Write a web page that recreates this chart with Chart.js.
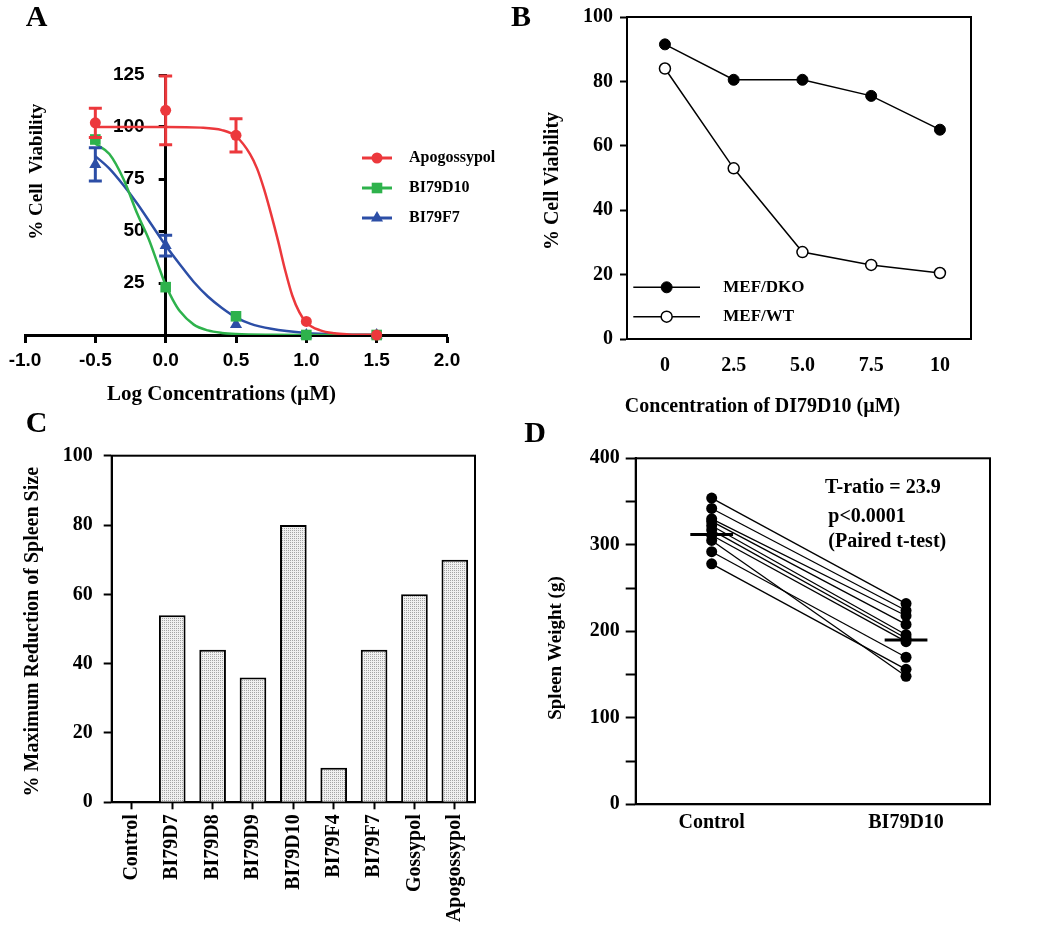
<!DOCTYPE html>
<html>
<head>
<meta charset="utf-8">
<script src="https://cdn.jsdelivr.net/npm/chart.js@4.4.0/dist/chart.umd.min.js"></script>
<style>
  body { margin: 0; background: #fff; width: 1050px; height: 949px; position: relative; overflow: hidden; }
  canvas { position: absolute; }
</style>
</head>
<body>
<canvas id="chartA" width="520" height="420" style="left:0;top:0"></canvas>
<canvas id="chartB" width="550" height="430" style="left:500px;top:0"></canvas>
<canvas id="chartC" width="520" height="549" style="left:0;top:400px"></canvas>
<canvas id="chartD" width="530" height="440" style="left:520px;top:420px"></canvas>
<script>
// ---- panel A: dose response ----
const seriesA = ['Apogossypol', 'BI79D10', 'BI79F7'];
const logConc = [-0.5, 0, 0.5, 1.0, 1.5];
const apoMean = [102, 108, 96, 6.5, 0];
const apoErr = [7, 16.5, 8, 0, 0];
const d10Mean = [94, 23, 9, 0, 0];
const d10Err = [0, 0, 0, 0, 0];
const f7Mean = [82, 43, 5, 0, 0];
const f7Err = [8, 5, 0, 0, 0];
// fitted curves
const apoFitX = [-0.5, -0.25, 0, 0.25, 0.4, 0.5, 0.6, 0.65, 0.7, 0.75, 0.8, 0.85, 0.9, 0.95, 1.0, 1.1, 1.2, 1.3, 1.5];
const apoFitY = [100, 100, 100, 99.7, 98.5, 95.5, 87, 80, 70, 58, 45, 31, 19, 11, 6, 2.2, 0.8, 0.3, 0];
const d10FitX = [-0.5, -0.4, -0.3, -0.2, -0.12, -0.05, 0, 0.05, 0.1, 0.2, 0.3, 0.4, 0.5, 0.75, 1.0, 1.5];
const d10FitY = [92, 87, 75, 58, 46, 33, 24, 17, 11.5, 5, 2.2, 1, 0.5, 0.1, 0, 0];
const f7FitX = [-0.5, -0.4, -0.3, -0.2, -0.1, 0, 0.1, 0.2, 0.3, 0.4, 0.5, 0.6, 0.75, 1.0, 1.25, 1.5];
const f7FitY = [86, 80, 72, 63, 53, 43, 34, 25.5, 18.5, 13, 8.5, 5.5, 3, 1, 0.3, 0.1];

// ---- panel B ----
const seriesB = ['MEF/DKO', 'MEF/WT'];
const bConc = [0, 2.5, 5, 7.5, 10];
const bTickLabels = ['0', '2.5', '5.0', '7.5', '10'];
const dkoViability = [91.5, 80.5, 80.5, 75.5, 65];
const wtViability = [84, 53, 27, 23, 20.5];

// ---- panel C ----
const compounds = ['Control', 'BI79D7', 'BI79D8', 'BI79D9', 'BI79D10', 'BI79F4', 'BI79F7', 'Gossypol', 'Apogossypol'];
const spleenReduction = [0, 54, 44, 36, 80, 10, 44, 60, 70];

// ---- panel D ----
const groupsD = ['Control', 'BI79D10'];
const controlWeight = [354, 342, 330, 327, 322, 317, 311, 305, 292, 278];
const treatedWeight = [232, 224, 218, 208, 196, 192, 188, 148, 170, 156];
const groupMeans = [312, 190];

const SERIF = '"Liberation Serif", "Times New Roman", serif';
const SANS = '"Liberation Sans", Arial, sans-serif';
Chart.defaults.font.family = SERIF;
Chart.defaults.font.weight = 'bold';
Chart.defaults.font.size = 20;
Chart.defaults.color = '#000';

const RED = 'rgb(236,56,60)', GREEN = 'rgb(46,178,76)', BLUE = 'rgb(44,78,166)';

const pts = (xs, ys) => xs.map((x, i) => ({ x, y: ys[i] }));

// free text: panel letters, axis titles, notes
const textPlugin = {
  id: 'texts',
  afterDraw(chart, args, opts) {
    const ctx = chart.ctx;
    (opts.items || []).forEach(it => {
      ctx.save();
      ctx.font = it.font;
      ctx.fillStyle = '#000';
      ctx.textAlign = it.align || 'center';
      ctx.textBaseline = 'middle';
      ctx.translate(it.x, it.y);
      if (it.rot) ctx.rotate(it.rot);
      ctx.fillText(it.text, 0, 0);
      ctx.restore();
    });
  }
};

const framePlugin = {
  id: 'frame',
  beforeDatasetsDraw(chart, args, opts) {
    if (!opts.width) return;
    const { left, top, right, bottom } = chart.chartArea;
    const ctx = chart.ctx;
    ctx.save();
    ctx.strokeStyle = '#000';
    ctx.lineWidth = opts.width;
    ctx.strokeRect(left, top, right - left, bottom - top);
    ctx.restore();
  }
};

const errorBarPlugin = {
  id: 'errorBars',
  afterDatasetsDraw(chart) {
    const ctx = chart.ctx;
    const xs = chart.scales.x, ys = chart.scales.y;
    chart.data.datasets.forEach(ds => {
      if (!ds.errors) return;
      ds.data.forEach((p, j) => {
        const e = ds.errors[j];
        if (!e) return;
        const px = xs.getPixelForValue(p.x);
        const top = ys.getPixelForValue(p.y + e);
        const bot = ys.getPixelForValue(p.y - e);
        ctx.save();
        ctx.strokeStyle = ds.borderColor;
        ctx.lineWidth = 3;
        ctx.beginPath();
        ctx.moveTo(px, top); ctx.lineTo(px, bot);
        ctx.moveTo(px - 6.5, top); ctx.lineTo(px + 6.5, top);
        ctx.moveTo(px - 6.5, bot); ctx.lineTo(px + 6.5, bot);
        ctx.stroke();
        ctx.restore();
      });
    });
  }
};

// hand placed legend (line + marker + label)
const legendPlugin = {
  id: 'sideLegend',
  afterDraw(chart, args, opts) {
    if (!opts.items) return;
    const ctx = chart.ctx;
    opts.items.forEach((it, i) => {
      const y = opts.y + i * opts.gap;
      ctx.save();
      ctx.strokeStyle = it.color;
      ctx.lineWidth = opts.lineWidth;
      ctx.beginPath();
      ctx.moveTo(opts.x0, y); ctx.lineTo(opts.x1, y);
      ctx.stroke();
      ctx.fillStyle = it.fill;
      ctx.lineWidth = it.borderWidth || 0;
      Chart.helpers.drawPoint(ctx, { pointStyle: it.style, radius: it.r, rotation: 0, borderWidth: it.borderWidth || 0 }, (opts.x0 + opts.x1) / 2, y);
      ctx.fillStyle = '#000';
      ctx.font = opts.font;
      ctx.textAlign = 'left';
      ctx.textBaseline = 'middle';
      ctx.fillText(it.label, opts.tx, y);
      ctx.restore();
    });
  }
};

// panel A: move the y axis so it crosses the x axis at 0
const crossAxisPlugin = {
  id: 'crossAxis',
  afterLayout(chart, args, opts) {
    if (opts.at === undefined) return;
    const x0 = chart.scales.x.getPixelForValue(opts.at);
    const y = chart.scales.y;
    y.left = x0 - 80;
    y.right = x0;
    y.width = 80;
  }
};

const plugins = [textPlugin, framePlugin, errorBarPlugin, legendPlugin, crossAxisPlugin];
const common = { responsive: false, animation: false, devicePixelRatio: 1, events: [] };

// ---------------- A ----------------
const curve = (xs, ys, color) => ({
  data: pts(xs, ys), showLine: true, borderColor: color, borderWidth: 2.5,
  pointRadius: 0, cubicInterpolationMode: 'monotone', order: 2
});
const marks = (ys, errs, color, style, r) => ({
  data: pts(logConc, ys), errors: errs, showLine: false, borderColor: color,
  backgroundColor: color, pointBackgroundColor: color, pointBorderColor: color,
  pointStyle: style, pointRadius: r, pointBorderWidth: 0, clip: false, order: 1
});

new Chart(document.getElementById('chartA'), {
  type: 'scatter',
  data: {
    datasets: [
      curve(apoFitX, apoFitY, RED),
      curve(d10FitX, d10FitY, GREEN),
      curve(f7FitX, f7FitY, BLUE),
      marks(apoMean, apoErr, RED, 'circle', 5.5),
      marks(d10Mean, d10Err, GREEN, 'rect', 7.5),
      marks(f7Mean, f7Err, BLUE, 'triangle', 7)
    ]
  },
  options: {
    ...common,
    layout: { padding: { left: 5, right: 73, top: 75, bottom: 0 } },
    scales: {
      x: {
        type: 'linear', min: -1, max: 2,
        ticks: { stepSize: 0.5, autoSkip: false, maxRotation: 0, padding: 6,
                 callback: v => v.toFixed(1), font: { family: SANS, size: 19, weight: 'bold' } },
        grid: { drawOnChartArea: false, tickLength: 8, tickWidth: 3, tickColor: '#000' },
        border: { color: '#000', width: 3 },
        afterFit: s => { s.height = 85; }
      },
      y: {
        type: 'linear', min: 0, max: 125, position: 'left',
        ticks: { stepSize: 25, padding: 14, callback: v => (v === 0 ? '' : v),
                 font: { family: SANS, size: 19, weight: 'bold', lineHeight: 1 } },
        grid: { drawOnChartArea: false, tickLength: 7, tickWidth: 3, tickColor: '#000' },
        border: { color: '#000', width: 3 },
        afterFit: s => { s.width = 20; }
      }
    },
    plugins: {
      legend: { display: false }, tooltip: { enabled: false },
      crossAxis: { at: 0 },
      texts: { items: [
        { text: 'A', x: 36.5, y: 18, font: 'bold 30px ' + SERIF },
        { text: '% Cell  Viability', x: 36.7, y: 171.7, rot: -Math.PI / 2, font: 'bold 19px ' + SERIF },
        { text: 'Log Concentrations (\u00b5M)', x: 221.5, y: 395, font: 'bold 21px ' + SERIF }
      ] },
      sideLegend: {
        x0: 362, x1: 392, tx: 409, y: 158, gap: 30, lineWidth: 3, font: 'bold 16px ' + SERIF,
        items: [
          { label: seriesA[0], color: RED, fill: RED, style: 'circle', r: 5.5 },
          { label: seriesA[1], color: GREEN, fill: GREEN, style: 'rect', r: 7.5 },
          { label: seriesA[2], color: BLUE, fill: BLUE, style: 'triangle', r: 7 }
        ]
      }
    }
  },
  plugins
});

// ---------------- B ----------------
new Chart(document.getElementById('chartB'), {
  type: 'scatter',
  data: {
    datasets: [
      { data: pts(bConc, dkoViability), showLine: true, borderColor: '#000', borderWidth: 1.5,
        pointRadius: 5.5, pointBackgroundColor: '#000', pointBorderColor: '#000', pointBorderWidth: 1 },
      { data: pts(bConc, wtViability), showLine: true, borderColor: '#000', borderWidth: 1.5,
        pointRadius: 5.5, pointBackgroundColor: '#fff', pointBorderColor: '#000', pointBorderWidth: 1.5 }
    ]
  },
  options: {
    ...common,
    layout: { padding: { left: 67, right: 79, top: 11, bottom: 0 } },
    scales: {
      x: {
        type: 'linear', min: -1.38, max: 11.13,
        afterBuildTicks: s => { s.ticks = bConc.map(v => ({ value: v })); },
        ticks: { autoSkip: false, maxRotation: 0, padding: 15, callback: (v, i) => bTickLabels[i] },
        grid: { drawOnChartArea: false, drawTicks: false },
        border: { color: '#000', width: 2 },
        afterFit: s => { s.height = 91; }
      },
      y: {
        type: 'linear', min: 0, max: 100,
        ticks: { stepSize: 20, padding: 7, font: { lineHeight: 1 } },
        grid: { drawOnChartArea: false, tickLength: 7, tickWidth: 2, tickColor: '#000' },
        border: { color: '#000', width: 2 },
        afterFit: s => { s.width = 60; }
      }
    },
    plugins: {
      legend: { display: false }, tooltip: { enabled: false },
      frame: { width: 2 },
      texts: { items: [
        { text: 'B', x: 21, y: 18.3, font: 'bold 30px ' + SERIF },
        { text: '% Cell Viability', x: 53, y: 181, rot: -Math.PI / 2, font: 'bold 20px ' + SERIF },
        { text: 'Concentration of DI79D10 (\u00b5M)', x: 262.5, y: 406.7, font: 'bold 20px ' + SERIF }
      ] },
      sideLegend: {
        x0: 133.3, x1: 200, tx: 223.3, y: 287.3, gap: 29.4, lineWidth: 1.5, font: 'bold 17px ' + SERIF,
        items: [
          { label: seriesB[0], color: '#000', fill: '#000', style: 'circle', r: 5.5, borderWidth: 1 },
          { label: seriesB[1], color: '#000', fill: '#fff', style: 'circle', r: 5.5, borderWidth: 1.5 }
        ]
      }
    }
  },
  plugins
});

// ---------------- C ----------------
const canvasC = document.getElementById('chartC');
const stipple = (() => {
  const tile = document.createElement('canvas');
  tile.width = 2; tile.height = 2;
  const g = tile.getContext('2d');
  g.fillStyle = '#f0f0f0'; g.fillRect(0, 0, 2, 2);
  g.fillStyle = '#a4a4a4'; g.fillRect(0, 0, 1, 1);
  return canvasC.getContext('2d').createPattern(tile, 'repeat');
})();

new Chart(canvasC, {
  type: 'bar',
  data: {
    labels: compounds,
    datasets: [{ data: spleenReduction, backgroundColor: stipple, borderColor: '#000', borderWidth: 2,
                 borderSkipped: 'start', barPercentage: 0.66, categoryPercentage: 1 }]
  },
  options: {
    ...common,
    layout: { padding: { left: 41.7, right: 45, top: 55.7, bottom: 0 } },
    scales: {
      x: {
        ticks: { autoSkip: false, minRotation: 90, maxRotation: 90, padding: 5 },
        grid: { offset: false, drawOnChartArea: false, tickLength: 7, tickWidth: 2, tickColor: '#000' },
        border: { color: '#000', width: 2 },
        afterFit: s => { s.height = 146.7; }
      },
      y: {
        min: 0, max: 100,
        ticks: { stepSize: 20, padding: 11 },
        grid: { drawOnChartArea: false, tickLength: 8, tickWidth: 2, tickColor: '#000' },
        border: { color: '#000', width: 2 },
        afterFit: s => { s.width = 70; }
      }
    },
    plugins: {
      legend: { display: false }, tooltip: { enabled: false },
      frame: { width: 2 },
      texts: { items: [
        { text: 'C', x: 36.5, y: 24, font: 'bold 30px ' + SERIF },
        { text: '% Maximum Reduction of Spleen Size', x: 32.5, y: 231.7, rot: -Math.PI / 2, font: 'bold 20px ' + SERIF }
      ] }
    }
  },
  plugins
});

// ---------------- D ----------------
const pairSets = controlWeight.map((c, i) => ({
  data: [{ x: 0, y: c }, { x: 1, y: treatedWeight[i] }],
  showLine: true, borderColor: '#000', borderWidth: 1.3,
  pointRadius: 5.5, pointBackgroundColor: '#000', pointBorderColor: '#000', pointBorderWidth: 0
}));
const meanHalf = 0.11;
const meanSets = groupMeans.map((m, i) => ({
  data: [{ x: i - meanHalf, y: m }, { x: i + meanHalf, y: m }],
  showLine: true, borderColor: '#000', borderWidth: 3, pointRadius: 0
}));

new Chart(document.getElementById('chartD'), {
  type: 'scatter',
  data: { datasets: [...meanSets, ...pairSets] },
  options: {
    ...common,
    layout: { padding: { left: 45.7, right: 60, top: 38.3, bottom: 0 } },
    scales: {
      x: {
        type: 'linear', min: -0.391, max: 1.432,
        afterBuildTicks: s => { s.ticks = groupsD.map((g, i) => ({ value: i })); },
        ticks: { autoSkip: false, maxRotation: 0, padding: 7, callback: (v, i) => groupsD[i] },
        grid: { drawOnChartArea: false, drawTicks: false },
        border: { color: '#000', width: 2 },
        afterFit: s => { s.height = 55.7; }
      },
      y: {
        type: 'linear', min: 0, max: 400,
        ticks: { stepSize: 50, padding: 6, callback: v => (v % 100 === 0 ? v : '') },
        grid: { drawOnChartArea: false, tickLength: 10, tickWidth: 2, tickColor: '#000' },
        border: { color: '#000', width: 2 },
        afterFit: s => { s.width = 70; }
      }
    },
    plugins: {
      legend: { display: false }, tooltip: { enabled: false },
      frame: { width: 2 },
      texts: { items: [
        { text: 'D', x: 15, y: 14, font: 'bold 30px ' + SERIF },
        { text: 'Spleen Weight (g)', x: 36.5, y: 228, rot: -Math.PI / 2, font: 'bold 19px ' + SERIF },
        { text: 'T-ratio = 23.9', x: 305, y: 68.3, align: 'left', font: 'bold 20px ' + SERIF },
        { text: 'p<0.0001', x: 308.3, y: 96.7, align: 'left', font: 'bold 20px ' + SERIF },
        { text: '(Paired t-test)', x: 308.3, y: 121.7, align: 'left', font: 'bold 20px ' + SERIF }
      ] }
    }
  },
  plugins
});
</script>
</body>
</html>
